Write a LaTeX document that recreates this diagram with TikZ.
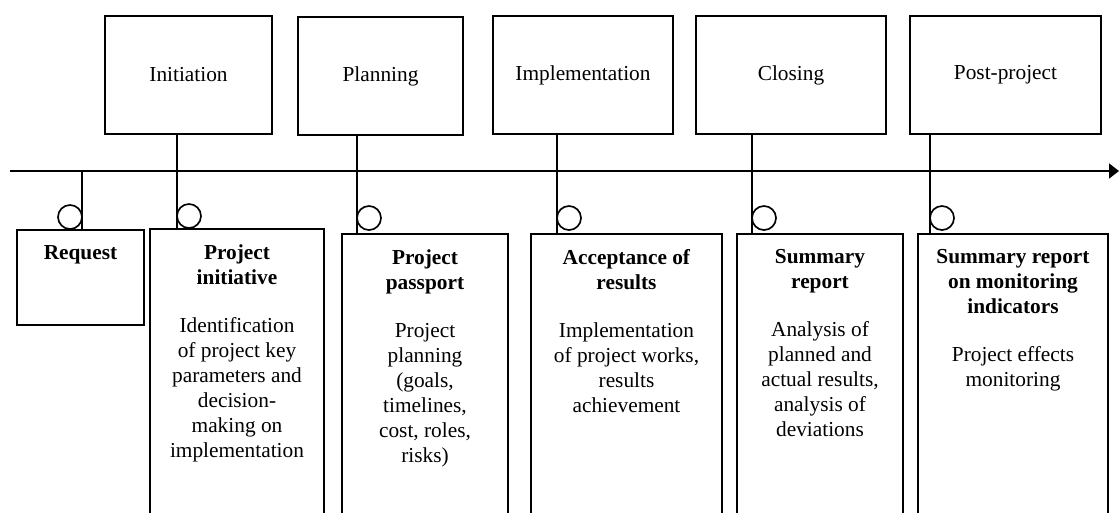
\documentclass[tikz,border=0pt]{standalone}
\usepackage{fontspec}
\setmainfont{Liberation Serif}
\usetikzlibrary{arrows.meta,positioning}
\newcommand{\px}{0.6pt}

\begin{document}
\begin{tikzpicture}[x=0.6pt,y=-0.6pt,line width=1pt,
  every node/.style={font={\fontsize{12.8pt}{15pt}\selectfont}},
  phase/.style={draw,line width=1pt,inner sep=0pt,align=center,minimum height=118*\px},
  doc/.style={draw,line width=1pt,inner sep=0pt,anchor=north},
  doctext/.style={inner sep=0pt,align=center},
  marker/.style={draw,circle,line width=1pt,inner sep=0pt,minimum size=24*\px}]
%Bildgroesse wie Vorlage (Pixel)
\useasboundingbox (0,0) rectangle (1119,512);
\clip (0,0) rectangle (1119,512);
%Phasen oben
\node[phase,minimum width=167*\px] (init) at (188.5,75) {Initiation};
\node[phase,minimum width=165*\px] (plan) at (380.5,76) {Planning};
\node[phase,minimum width=180*\px] (impl) at (583,75) {Implementation};
\node[phase,minimum width=190*\px] (clos) at (791,75) {Closing};
\node[phase,minimum width=191*\px] (post) at (1005.5,75) {Post-project};
%Zeitachse
\coordinate (tl) at (10,171);
\coordinate (tr) at (1119,171);
\draw[-{Triangle[length=6pt,width=9pt]}] (tl) -- (tr);
\foreach \n/\x in {s0/82,s1/177,s2/357,s3/557,s4/752,s5/930}{
  \coordinate (\n) at (\x,171);
}
%Dokumente unten
\node[doc,minimum width=127*\px,minimum height=95*\px] (req) at (80.5,229) {};
\node[doc,minimum width=174*\px,minimum height=300*\px] (initv) at (237,228) {};
\node[doc,minimum width=166*\px,minimum height=300*\px] (pass) at (425,233) {};
\node[doc,minimum width=191*\px,minimum height=300*\px] (acc) at (626.5,233) {};
\node[doc,minimum width=166*\px,minimum height=300*\px] (summ) at (820,233) {};
\node[doc,minimum width=190*\px,minimum height=300*\px] (mon) at (1013,233) {};
\node[doctext,below=9.6pt of req.north] (reqt) {\textbf{Request}};
\node[doctext,below=9.6pt of initv.north] (initvt) {\textbf{Project}\\\textbf{initiative}\\[13.8pt]Identification\\of project key\\parameters and\\decision-\\making on\\implementation};
\node[doctext,below=9.6pt of pass.north] (passt) {\textbf{Project}\\\textbf{passport}\\[13.8pt]Project\\planning\\(goals,\\timelines,\\cost, roles,\\risks)};
\node[doctext,below=9.6pt of acc.north] (acct) {\textbf{Acceptance of}\\\textbf{results}\\[13.8pt]Implementation\\of project works,\\results\\achievement};
\node[doctext,below=9.6pt of summ.north] (summt) {\textbf{Summary}\\\textbf{report}\\[13.8pt]Analysis of\\planned and\\actual results,\\analysis of\\deviations};
\node[doctext,below=9.6pt of mon.north] (mont) {\textbf{Summary report}\\\textbf{on monitoring}\\\textbf{indicators}\\[13.8pt]Project effects\\monitoring};
%Kreise an den Stielen
\node[marker] (c0) at (70,217) {};
\node[marker] (c1) at (189,216) {};
\node[marker] (c2) at (369,218) {};
\node[marker] (c3) at (569,218) {};
\node[marker] (c4) at (764,218) {};
\node[marker] (c5) at (942,218) {};
%Stiele
\draw (s0) -- (req.north -| s0);
\foreach \a/\b/\s in {init/initv/s1,plan/pass/s2,impl/acc/s3,clos/summ/s4,post/mon/s5}{
  \draw (\a.south -| \s) -- (\b.north -| \s);
}
\end{tikzpicture}
\end{document}
